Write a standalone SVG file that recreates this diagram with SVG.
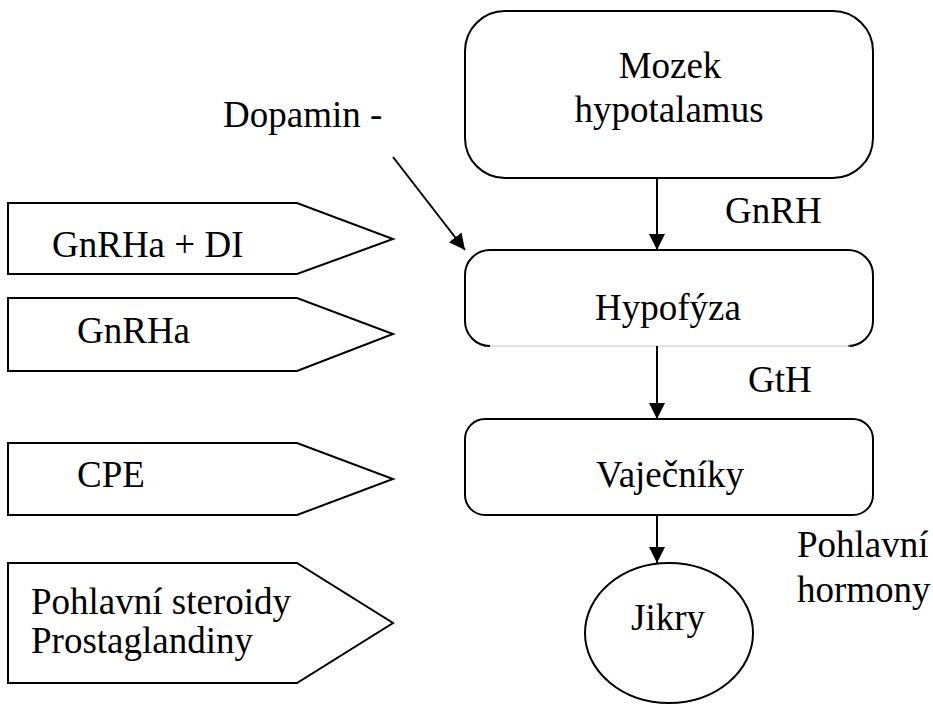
<svg xmlns="http://www.w3.org/2000/svg" width="933" height="704" viewBox="0 0 933 704">
<style>
.s{fill:#fff;stroke:#000;stroke-width:2}
.t{font-family:"Liberation Serif","Times New Roman",serif;font-size:37px;fill:#000}
.m{text-anchor:middle}
.c{stroke:#000;stroke-width:2;fill:none}
</style>
<defs>
<marker id="ah" markerUnits="userSpaceOnUse" markerWidth="16" markerHeight="16" viewBox="0 0 16 16" refX="16" refY="8" orient="auto">
<path d="M0,0 L16,8 L0,16 Z" fill="#000"/>
</marker>
</defs>
<rect width="933" height="704" fill="#fff"/>
<g id="n-gnrhadi">
<polygon class="s" points="8,203 297,203 393,239 297,274 8,274"/>
<text class="t" x="52" y="257">GnRHa + DI</text>
</g>
<g id="n-gnrha">
<polygon class="s" points="8,298 297,298 393,334 297,371 8,371"/>
<text class="t" x="77" y="343">GnRHa</text>
</g>
<g id="n-cpe">
<polygon class="s" points="8,443 297,443 393,479 297,515 8,515"/>
<text class="t" x="77" y="487">CPE</text>
</g>
<g id="n-steroidy">
<polygon class="s" points="8,563 297,563 393,623 297,683 8,683"/>
<text class="t" x="31" y="614">Pohlavní steroidy</text>
<text class="t" x="31" y="653">Prostaglandiny</text>
</g>
<g id="n-mozek">
<rect class="s" x="465" y="11" width="408" height="167" rx="40"/>
<text class="t m" x="670" y="78">Mozek</text>
<text class="t m" x="669" y="122">hypotalamus</text>
</g>
<g id="n-hypofyza">
<rect x="465" y="250" width="408" height="96" rx="25" fill="#fff"/>
<path class="c" d="M850,346 L848,346 A25,25 0 0 0 873,321 V275 A25,25 0 0 0 848,250 H490 A25,25 0 0 0 465,275 V321 A25,25 0 0 0 490,346"/>
<line x1="490" y1="346" x2="850" y2="346" stroke="#c8c8c8" stroke-width="1"/>
<text class="t m" x="668" y="320">Hypofýza</text>
</g>
<g id="n-vajecniky">
<rect class="s" x="465" y="419" width="408" height="96" rx="20"/>
<text class="t m" x="670" y="487">Vaječníky</text>
</g>
<g id="n-jikry">
<ellipse class="s" cx="669" cy="633" rx="84" ry="70"/>
<text class="t m" x="668" y="630">Jikry</text>
</g>
<g id="connectors">
<line class="c" x1="657" y1="178" x2="657" y2="250" marker-end="url(#ah)"/>
<line class="c" x1="657" y1="346" x2="657" y2="419" marker-end="url(#ah)"/>
<line class="c" x1="657" y1="515" x2="657" y2="563" marker-end="url(#ah)"/>
<line class="c" x1="393" y1="157" x2="465" y2="250" marker-end="url(#ah)"/>
</g>
<g id="labels">
<text class="t" x="223" y="127">Dopamin -</text>
<text class="t" x="725" y="223">GnRH</text>
<text class="t" x="748" y="392">GtH</text>
<text class="t" x="797" y="557">Pohlavní</text>
<text class="t" x="797" y="602">hormony</text>
</g>
</svg>
